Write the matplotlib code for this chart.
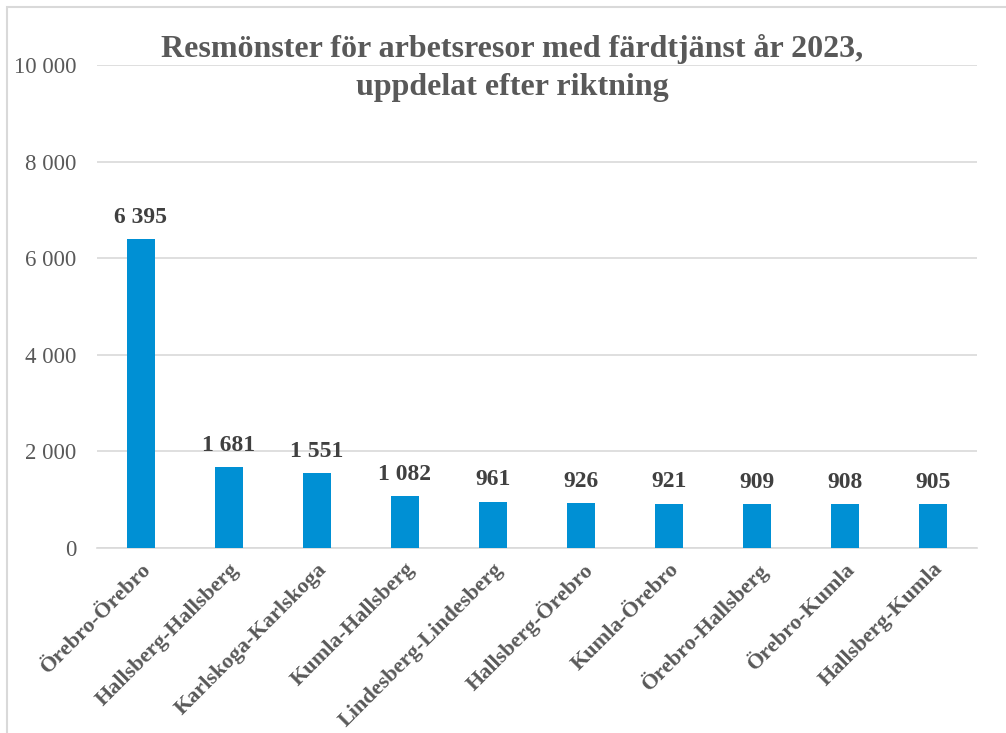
import matplotlib.pyplot as plt
from matplotlib.patches import Rectangle

categories = ['Örebro-Örebro', 'Hallsberg-Hallsberg', 'Karlskoga-Karlskoga',
              'Kumla-Hallsberg', 'Lindesberg-Lindesberg', 'Hallsberg-Örebro',
              'Kumla-Örebro', 'Örebro-Hallsberg', 'Örebro-Kumla', 'Hallsberg-Kumla']
values = [6395, 1681, 1551, 1082, 961, 926, 921, 909, 908, 905]
yticks = [0, 2000, 4000, 6000, 8000, 10000]

title = 'Resmönster för arbetsresor med färdtjänst år 2023,\nuppdelat efter riktning'

plt.rcParams['font.family'] = ['Liberation Serif', 'DejaVu Serif']

def fmt(v):
    return '{:,}'.format(v).replace(',', ' ')

fig = plt.figure(figsize=(10.06, 7.33), dpi=100)
ax = fig.add_axes([97/1006, 1 - 548/733, 880/1006, (548 - 65)/733])

x = range(len(categories))
ax.bar(x, values, width=0.32, color='#0090D4', zorder=3)

for i, v in enumerate(values):
    ax.annotate(fmt(v), (i, v), xytext=(0, 8), textcoords='offset points',
                ha='center', va='bottom', fontsize=17, fontweight='bold',
                color='#404040')

ax.set_xlim(-0.5, len(categories) - 0.5)
ax.set_ylim(0, 10000)
ax.set_yticks(yticks)
ax.set_yticklabels([fmt(t) for t in yticks], fontsize=16.5, color='#595959')
ax.set_xticks(list(x))
ax.set_xticklabels(categories, rotation=45, ha='right', rotation_mode='anchor',
                   fontsize=16, fontweight='bold', color='#595959')
ax.tick_params(axis='y', length=0, pad=15)
ax.tick_params(axis='x', length=0, pad=8)

ax.grid(axis='y', color='#D9D9D9', linewidth=1.2, zorder=0)
for s in ['top', 'right', 'left']:
    ax.spines[s].set_visible(False)
ax.spines['bottom'].set_color('#D9D9D9')
ax.spines['bottom'].set_linewidth(1.2)

fig.text(512/1006, 1 - 68/733, title, ha='center', va='center', fontsize=23,
         fontweight='bold', color='#595959', linespacing=1.42)

fig.patches.append(Rectangle((7/1006, -0.05), 1.1, 1 - 7/733 + 0.05,
                             transform=fig.transFigure, fill=False,
                             edgecolor='#D9D9D9', linewidth=1.5))

fig.savefig('out.png', dpi=100)
